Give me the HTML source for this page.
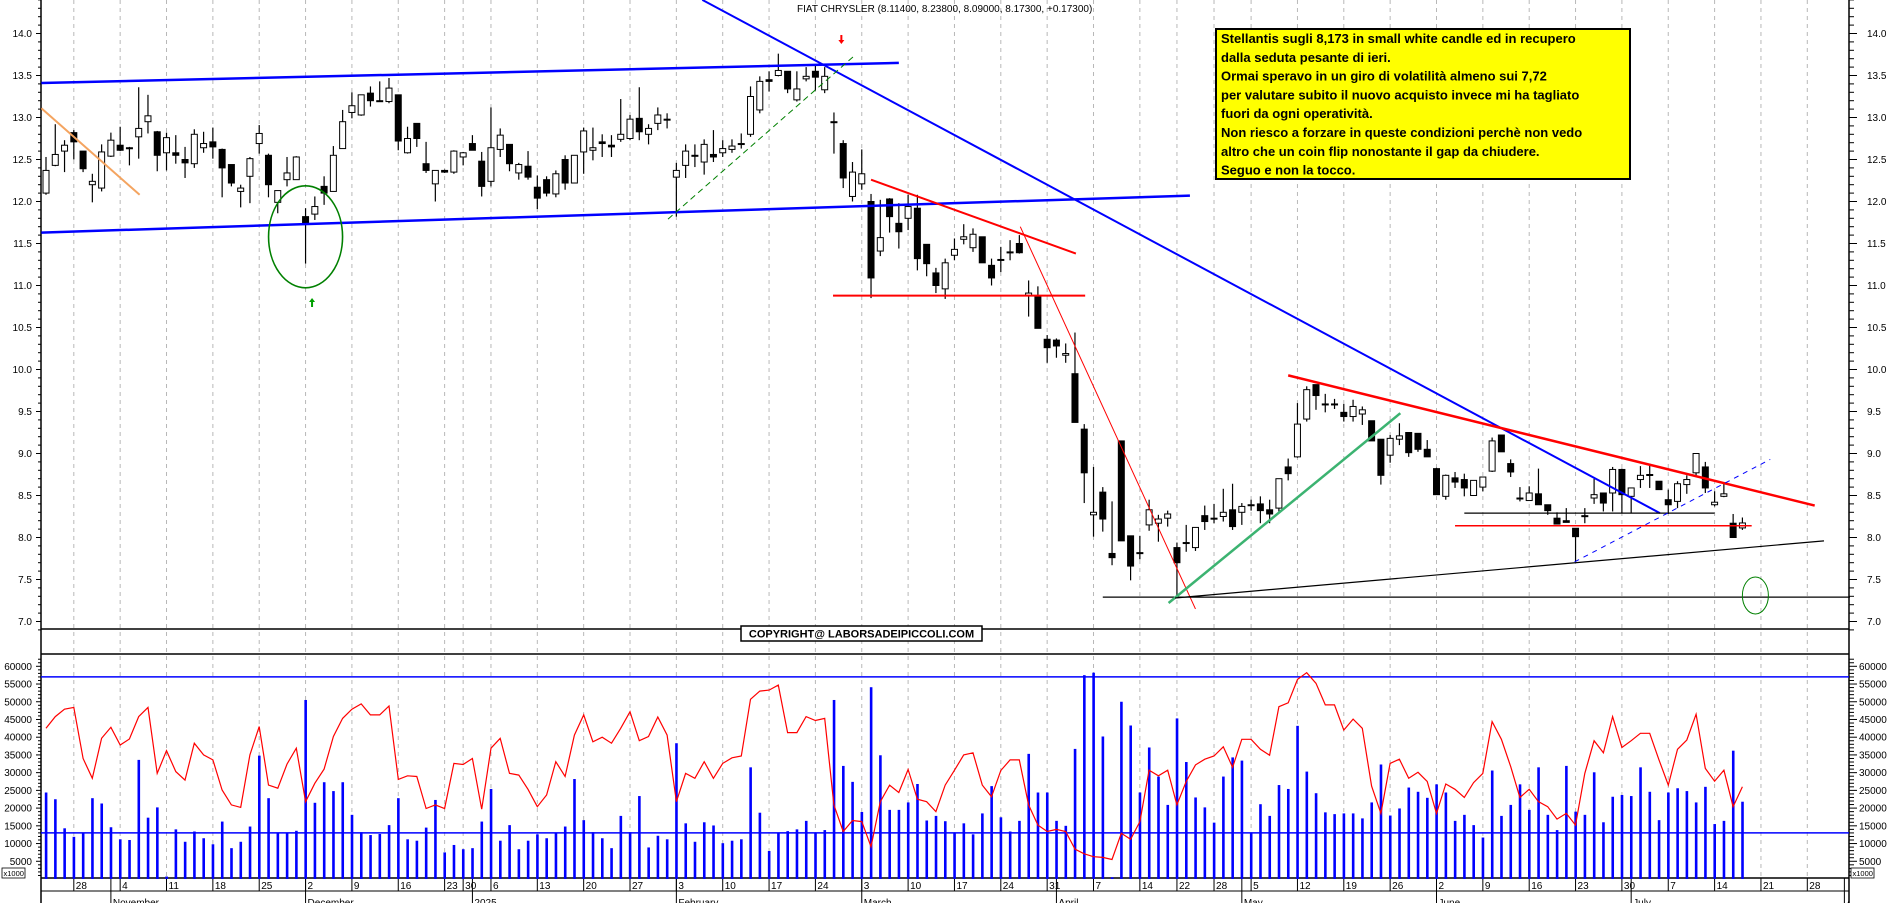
<!DOCTYPE html>
<html><head><meta charset="utf-8"><title>FIAT CHRYSLER chart</title>
<style>
html,body{margin:0;padding:0;background:#fff;}
svg{display:block;font-family:"Liberation Sans",Arial,sans-serif;}
</style></head>
<body>
<svg id="chart" xmlns="http://www.w3.org/2000/svg" width="1890" height="903" viewBox="0 0 1890 903">
<g id="grid"></g>
<g id="axes"></g>
<g id="candles"></g>
<g id="vol"></g>
<g id="annot"></g>
<text x="797" y="12" font-size="10" fill="#000">FIAT CHRYSLER (8.11400, 8.23800, 8.09000, 8.17300, +0.17300)</text>
<g>
<rect x="1216" y="29" width="414" height="150" fill="#ffff00" stroke="#000" stroke-width="2"/>
<text font-size="13" font-weight="bold" fill="#000">
<tspan x="1221" y="43">Stellantis sugli 8,173 in small white candle ed in recupero</tspan>
<tspan x="1221" y="61.8">dalla seduta pesante di ieri.</tspan>
<tspan x="1221" y="80.6">Ormai speravo in un giro di volatilità  almeno sui 7,72</tspan>
<tspan x="1221" y="99.4">per valutare subito il nuovo acquisto invece mi ha tagliato</tspan>
<tspan x="1221" y="118.2">fuori da ogni operatività.</tspan>
<tspan x="1221" y="137">Non riesco a forzare in queste condizioni perchè non vedo</tspan>
<tspan x="1221" y="155.8">altro che un coin flip nonostante il gap da chiudere.</tspan>
<tspan x="1221" y="174.6">Seguo e non la tocco.</tspan>
</text>
</g>
<g>
<rect x="741" y="626" width="241" height="15" fill="#fff" stroke="#000" stroke-width="1.5"/>
<text x="861.5" y="637.5" font-size="11" font-weight="bold" text-anchor="middle" fill="#000">COPYRIGHT@ LABORSADEIPICCOLI.COM</text>
</g>
</svg>
<script>
var opens=[12.10,12.43,12.60,12.82,12.60,12.20,12.16,12.54,12.67,12.64,12.77,12.95,12.83,12.58,12.58,12.50,12.45,12.64,12.71,12.62,12.44,12.12,12.30,12.69,12.55,11.99,12.26,12.26,11.82,11.85,12.18,12.12,12.63,13.06,13.03,13.29,13.20,13.19,13.27,12.58,12.93,12.45,12.21,12.37,12.35,12.53,12.69,12.48,12.24,12.62,12.68,12.34,12.42,12.17,12.26,12.09,12.50,12.22,12.59,12.61,12.71,12.67,12.74,12.75,12.99,12.80,12.93,12.98,12.29,12.43,12.55,12.47,12.56,12.58,12.62,12.69,12.80,13.09,13.45,13.50,13.55,13.21,13.46,13.55,13.33,12.95,12.69,12.06,12.21,12.00,11.41,12.03,11.74,11.80,11.92,11.49,11.15,10.96,11.36,11.55,11.45,11.58,11.24,11.31,11.40,11.50,10.88,10.87,10.36,10.35,10.17,9.95,9.29,8.27,8.54,7.81,9.15,8.02,7.82,8.15,8.17,8.23,7.88,7.94,7.88,8.26,8.23,8.25,8.33,8.30,8.39,8.40,8.33,8.35,8.84,8.96,9.41,9.82,9.59,9.59,9.49,9.44,9.47,9.39,9.17,8.98,9.17,9.25,9.24,9.05,8.82,8.49,8.71,8.69,8.50,8.60,8.79,9.22,8.88,8.47,8.44,8.52,8.39,8.23,8.20,8.11,8.26,8.47,8.53,8.53,8.81,8.49,8.69,8.75,8.67,8.45,8.43,8.63,8.77,8.84,8.39,8.49,8.17,8.114];
var highs=[12.53,12.92,12.73,12.85,12.60,12.33,12.68,12.82,12.89,12.65,13.36,13.27,12.84,12.82,12.79,12.65,12.86,12.83,12.88,12.63,12.44,12.20,12.53,12.91,12.57,12.13,12.53,12.54,11.92,12.06,12.30,12.66,13.09,13.30,13.27,13.37,13.43,13.47,13.27,12.89,12.93,12.71,12.37,12.38,12.61,12.59,12.79,12.59,13.12,12.87,12.68,12.46,12.60,12.31,12.30,12.37,12.55,12.55,12.88,12.88,12.80,12.79,13.22,13.03,13.36,12.92,13.12,13.05,12.46,12.68,12.68,12.74,12.85,12.73,12.74,12.81,13.37,13.49,13.55,13.76,13.55,13.55,13.60,13.62,13.60,13.06,12.73,12.47,12.62,12.09,12.02,12.04,11.98,12.08,12.08,11.49,11.21,11.32,11.56,11.73,11.68,11.58,11.32,11.46,11.54,11.60,11.06,10.99,10.41,10.37,10.31,10.44,9.35,8.84,8.60,8.43,9.15,8.02,8.02,8.45,8.27,8.32,7.94,8.15,8.12,8.38,8.40,8.58,8.64,8.41,8.45,8.49,8.45,8.70,8.94,9.60,9.80,9.82,9.71,9.65,9.59,9.64,9.56,9.39,9.17,9.22,9.36,9.25,9.24,9.16,8.83,8.75,8.78,8.76,8.68,8.72,9.19,9.22,8.93,8.60,8.61,8.82,8.39,8.30,8.35,8.11,8.35,8.70,8.53,8.84,8.82,8.59,8.85,8.88,8.67,8.57,8.67,8.74,9.00,8.90,8.55,8.64,8.28,8.238];
var lows=[12.08,12.42,12.35,12.50,12.35,11.99,12.12,12.53,12.60,12.43,12.51,12.81,12.36,12.37,12.45,12.28,12.40,12.58,12.51,12.05,12.18,11.93,11.98,12.57,12.05,11.86,12.18,12.26,11.26,11.78,11.96,12.12,12.63,12.99,13.02,13.13,13.20,13.17,12.61,12.57,12.65,12.34,12.00,12.34,12.33,12.43,12.61,12.06,12.18,12.53,12.36,12.26,12.26,11.91,12.06,12.05,12.14,12.22,12.33,12.49,12.53,12.53,12.71,12.73,12.73,12.68,12.85,12.87,11.82,12.28,12.41,12.32,12.47,12.53,12.58,12.63,12.77,13.05,13.31,13.49,13.29,13.19,13.43,13.32,13.29,12.57,12.16,12.00,12.14,10.85,11.35,11.63,11.44,11.66,11.18,11.11,10.91,10.84,11.30,11.49,11.40,11.27,11.00,11.16,11.30,11.38,10.63,10.49,10.08,10.14,10.08,9.37,8.41,8.01,8.07,7.67,7.96,7.49,7.74,8.08,7.95,8.13,7.28,7.83,7.84,8.09,8.17,8.19,8.09,8.15,8.32,8.17,8.17,8.31,8.68,8.95,9.38,9.52,9.49,9.53,9.38,9.38,9.34,9.15,8.63,8.89,9.10,8.96,9.02,8.96,8.51,8.45,8.59,8.49,8.50,8.55,8.78,9.02,8.72,8.43,8.44,8.39,8.27,8.16,8.18,7.71,8.17,8.40,8.31,8.31,8.29,8.29,8.59,8.59,8.57,8.28,8.35,8.52,8.72,8.53,8.37,8.48,8.00,8.09];
var closes=[12.37,12.56,12.67,12.71,12.39,12.24,12.59,12.73,12.61,12.64,12.87,13.02,12.55,12.76,12.55,12.46,12.80,12.69,12.65,12.40,12.22,12.16,12.51,12.81,12.20,12.13,12.34,12.53,11.73,11.94,12.10,12.55,12.95,13.14,13.27,13.20,13.20,13.35,12.72,12.75,12.75,12.37,12.37,12.35,12.60,12.58,12.61,12.18,12.64,12.79,12.45,12.44,12.29,12.04,12.10,12.33,12.22,12.55,12.84,12.64,12.69,12.65,12.80,12.98,12.83,12.87,13.03,12.97,12.37,12.60,12.55,12.68,12.53,12.63,12.66,12.68,13.25,13.43,13.43,13.56,13.34,13.34,13.49,13.48,13.49,12.95,12.28,12.35,12.33,11.09,11.57,11.82,11.64,11.94,11.32,11.26,11.00,11.27,11.43,11.58,11.61,11.27,11.09,11.31,11.40,11.39,10.91,10.49,10.26,10.28,10.19,9.37,8.77,8.30,8.22,7.76,7.96,7.66,7.82,8.33,8.22,8.28,7.70,7.94,8.12,8.19,8.23,8.30,8.13,8.37,8.39,8.32,8.28,8.70,8.76,9.35,9.76,9.69,9.59,9.59,9.44,9.56,9.52,9.15,8.74,9.18,9.21,9.01,9.05,8.96,8.51,8.74,8.66,8.59,8.68,8.72,9.15,9.02,8.78,8.47,8.53,8.39,8.32,8.16,8.18,8.01,8.26,8.51,8.41,8.81,8.51,8.59,8.74,8.75,8.57,8.39,8.64,8.69,9.00,8.59,8.42,8.52,8.00,8.173];
var volumes=[24.4,22.5,14.3,11.9,12.9,22.8,21.3,14.6,11.2,11.0,33.6,17.3,20.2,0.7,14.0,10.5,13.4,11.5,9.8,16.2,8.7,10.5,14.8,34.8,22.8,12.9,12.9,13.6,50.5,21.5,27.3,24.8,27.3,18.1,13.2,12.4,12.7,15.2,22.8,11.2,10.8,14.5,22.3,7.5,9.6,8.4,8.7,16.2,25.4,10.8,15.2,8.4,10.8,12.6,11.5,12.9,14.8,28.2,16.6,13.2,11.5,8.7,17.8,13.2,23.4,8.9,12.2,11.2,38.3,15.7,10.5,16.0,15.1,10.1,10.8,11.2,31.5,18.7,7.9,12.9,13.5,14.0,16.4,12.9,13.8,50.5,31.9,27.4,18.9,54.1,34.9,19.5,19.5,21.6,26.8,16.5,17.8,16.3,12.9,15.7,12.6,18.5,26.2,17.4,13.4,16.4,35.3,24.4,24.4,16.4,15.0,36.7,57.5,58.2,40.2,0.5,50.0,43.3,24.4,37.1,28.9,20.9,45.3,33.0,23.0,20.2,15.9,28.9,34.3,33.4,12.9,21.1,17.8,26.5,25.4,43.2,30.3,24.2,18.8,18.3,18.5,18.5,17.1,21.6,32.3,17.9,19.9,25.8,24.6,22.9,26.7,24.4,16.4,18.1,15.2,11.7,30.6,17.8,20.9,26.7,19.5,31.5,18.1,13.8,31.9,19.0,18.1,30.1,16.0,23.2,23.7,23.4,31.5,24.6,16.6,24.4,25.6,24.8,21.6,26.0,15.5,16.4,36.2,21.8];
var redLine=[42.5,45.8,47.9,48.4,34.0,28.4,39.7,42.8,37.8,39.5,45.8,48.4,29.8,36.2,30.3,27.9,38.3,35.0,33.6,25.1,20.9,20.2,35.0,43.0,26.5,25.6,32.4,36.9,21.8,27.0,31.0,40.2,45.3,47.9,49.4,46.3,46.3,48.8,28.1,29.1,28.9,19.9,20.9,19.9,32.6,32.3,34.0,19.7,36.9,39.7,29.8,29.3,25.3,20.4,23.7,33.1,28.9,40.6,46.3,38.7,40.0,38.3,42.5,47.2,39.0,40.2,45.7,40.6,21.8,29.8,28.4,33.1,28.4,32.6,34.2,34.7,50.7,53.0,53.3,54.7,41.3,41.3,45.8,44.7,45.3,20.9,13.4,16.5,16.2,9.1,21.8,26.5,24.4,30.9,22.5,21.8,19.0,26.5,30.7,35.0,35.6,26.5,23.2,30.6,33.6,33.6,20.9,15.2,13.4,14.0,13.4,8.4,7.1,6.3,6.1,5.5,12.9,11.2,16.2,30.7,29.1,30.7,20.9,27.5,32.2,33.8,34.7,37.3,31.5,39.4,39.4,36.6,34.9,48.6,49.7,56.3,58.2,55.2,49.1,49.1,42.0,45.1,42.5,26.2,18.5,32.6,33.8,28.4,30.1,27.5,18.5,26.8,25.3,23.0,27.2,29.8,44.4,39.4,31.7,23.0,25.3,21.8,20.4,16.9,18.5,15.2,29.8,39.0,35.6,45.8,37.1,39.0,41.1,41.1,33.6,26.5,36.6,39.2,46.5,31.2,27.6,30.7,20.4,26.0];
var priceTicks=[7.0,7.5,8.0,8.5,9.0,9.5,10.0,10.5,11.0,11.5,12.0,12.5,13.0,13.5,14.0];
var volTicks=[5000,10000,15000,20000,25000,30000,35000,40000,45000,50000,55000,60000];
var volLevels=[57.0,13.0];
var monthNames=["January","February","March","April","May","June","July","August","September","October","November","December"];
var holidays=["2024-12-24","2024-12-25","2024-12-26","2024-12-31","2025-01-01","2025-04-18","2025-04-21","2025-05-01"];

var NS="http://www.w3.org/2000/svg";
function X(i){return 46+i*9.27;}
function PY(p){return 33.5+(14-p)*84;}
function VY(v){return 879-v*3.545;}
function mk(parent,tag,attrs){var e=document.createElementNS(NS,tag);for(var k in attrs)e.setAttribute(k,attrs[k]);parent.appendChild(e);return e;}

var svgRoot=document.getElementById('chart');
var defs=mk(svgRoot,'defs',{});
var cp=mk(defs,'clipPath',{id:'clipAxis'});mk(cp,'rect',{x:0,y:0,width:1849,height:903});

var days=[];
var dd=new Date(Date.UTC(2024,9,23));
var endD=new Date(Date.UTC(2025,7,1));
while(dd<=endD){var wd=dd.getUTCDay();var s=dd.toISOString().slice(0,10);
 if(wd!==0&&wd!==6&&holidays.indexOf(s)<0)days.push(new Date(dd.getTime()));
 dd.setUTCDate(dd.getUTCDate()+1);}

var grid=document.getElementById('grid'),axes=document.getElementById('axes');
function weekKey(dt){var t=new Date(dt.getTime());t.setUTCDate(t.getUTCDate()-((t.getUTCDay()+6)%7));return t.toISOString().slice(0,10);}
var prevWeek=weekKey(days[0]),prevMonth=days[0].getUTCMonth();
for(var i=1;i<days.length;i++){
 var x=X(i);var wk=weekKey(days[i]);var mo=days[i].getUTCMonth();
 if(wk!==prevWeek){
  var g=mk(grid,'line',{x1:x,y1:0,x2:x,y2:878,stroke:'#b8b8b8','stroke-width':1,'stroke-dasharray':'4,4'});
  
  
  var tk=mk(axes,'line',{x1:x,y1:878,x2:x,y2:891,stroke:'#000','stroke-width':1});
  
  
  var lb=mk(axes,'text',{x:x+2,y:889,'font-size':10,fill:'#000'});lb.textContent=String(days[i].getUTCDate());
  
  
 }
 if(mo!==prevMonth){
  var mt=mk(axes,'line',{x1:x,y1:878,x2:x,y2:903,stroke:'#000','stroke-width':1});
  
  
  var ml=mk(axes,'text',{x:x+2,y:906,'font-size':10,fill:'#000','clip-path':'url(#clipAxis)'});
  ml.textContent=(mo===0)?String(days[i].getUTCFullYear()):monthNames[mo];
  
  
 }
 prevWeek=wk;prevMonth=mo;
}

function ln(x1,y1,x2,y2,c,w,name){var e=mk(axes,'line',{x1:x1,y1:y1,x2:x2,y2:y2,stroke:c,'stroke-width':w});return e;}
ln(41,0,41,903,'#000',1.5,'left-axis');
ln(1849,0,1849,903,'#000',1.5,'right-axis');
ln(41,629,1849,629,'#000',1.5,'price-panel-bottom');
ln(41,654,1849,654,'#000',1.5,'volume-panel-top');
ln(41,878,1849,878,'#000',1.5,'x-axis');
ln(41,891,1849,891,'#000',1,'month-axis');

for(var p=69;p<=144;p++){var v=p/10;var y=PY(v);var major=(p%5===0);
 mk(axes,'line',{x1:major?36:38,y1:y,x2:41,y2:y,stroke:'#000','stroke-width':1});
 mk(axes,'line',{x1:1849,y1:y,x2:major?1857:1854,y2:y,stroke:'#000','stroke-width':1});}
priceTicks.forEach(function(v){var y=PY(v);
 var a=mk(axes,'text',{x:32,y:y+3.5,'font-size':10,'text-anchor':'end',fill:'#000'});a.textContent=v.toFixed(1);
 
 
 var b=mk(axes,'text',{x:1867,y:y+3.5,'font-size':10,fill:'#000'});b.textContent=v.toFixed(1);
 
 });
for(var k=1;k<=62;k++){var y=VY(k);var major=(k%5===0);
 mk(axes,'line',{x1:major?36:38,y1:y,x2:41,y2:y,stroke:'#000','stroke-width':1});
 mk(axes,'line',{x1:1849,y1:y,x2:major?1857:1854,y2:y,stroke:'#000','stroke-width':1});}
volTicks.forEach(function(v){var y=VY(v/1000);
 var a=mk(axes,'text',{x:32,y:y+3.5,'font-size':10,'text-anchor':'end',fill:'#000'});a.textContent=String(v);
 
 
 var b=mk(axes,'text',{x:1859,y:y+3.5,'font-size':10,fill:'#000'});b.textContent=String(v);
 
 });
[[2,'x1000-left'],[1851,'x1000-right']].forEach(function(q){
 var r=mk(axes,'rect',{x:q[0],y:868,width:23,height:10,fill:'#fff',stroke:'#000','stroke-width':0.8});
 
 
 var t=mk(axes,'text',{x:q[0]+1.5,y:876,'font-size':7.5,fill:'#000'});t.textContent='x1000';});

var vol=document.getElementById('vol');
volLevels.forEach(function(v){var e=mk(vol,'line',{x1:41,y1:VY(v),x2:1849,y2:VY(v),stroke:'#0000ff','stroke-width':1.5});
 
 });
volumes.forEach(function(v,i){var y=VY(v);
 var r=mk(vol,'rect',{x:X(i)-1.2,y:y,width:2.6,height:879-y,fill:'#0000ff'});
 
 });
var pts=redLine.map(function(v,i){return X(i).toFixed(1)+','+VY(v).toFixed(1);}).join(' ');
var rl=mk(vol,'polyline',{points:pts,fill:'none',stroke:'#ff0000','stroke-width':1.2});



var cg=document.getElementById('candles');
for(var i=0;i<closes.length;i++){var cx=X(i);var o=opens[i],c=closes[i];
 var w=mk(cg,'line',{x1:cx,y1:PY(highs[i]),x2:cx,y2:PY(lows[i]),stroke:'#000','stroke-width':1.2});
 
 
 var yTop=PY(Math.max(o,c)),yBot=PY(Math.min(o,c));var bh=Math.max(yBot-yTop,1);
 var body=mk(cg,'rect',{x:cx-3,y:yTop,width:6,height:bh,fill:(c>=o?'#fff':'#000'),stroke:'#000','stroke-width':1});
 
 }

var an=document.getElementById('annot');
var trendLines=[
 {n:'upper-channel-line',a:[-0.5,13.41],b:[92,13.65],c:'#0000ff',w:2.5},
 {n:'lower-channel-line',a:[-0.5,11.63],b:[123.4,12.07],c:'#0000ff',w:2.5},
 {n:'blue-downtrend-line',a:[70.8,14.4],b:[174.1,8.29],c:'#0000ff',w:2},
 {n:'orange-short-trend',a:[-0.5,13.11],b:[10.1,12.08],c:'#f4a460',w:2},
 {n:'green-dashed-trend',a:[67.1,11.79],b:[87.05,13.72],c:'#008000',w:1,d:'6,4'},
 {n:'red-march-resistance',a:[89,12.26],b:[111.1,11.38],c:'#ff0000',w:2},
 {n:'red-march-support',a:[84.9,10.88],b:[112.1,10.88],c:'#ff0000',w:2},
 {n:'red-steep-trend',a:[105.1,11.70],b:[124,7.15],c:'#ff0000',w:1},
 {n:'black-horizontal-support',a:[114,7.29],b:[194.6,7.29],c:'#000',w:1.2},
 {n:'green-rising-trend',a:[121.1,7.22],b:[146.1,9.48],c:'#3cb371',w:2.5},
 {n:'black-rising-trend',a:[121.8,7.28],b:[191.8,7.96],c:'#000',w:1.2},
 {n:'red-descending-resistance',a:[134,9.93],b:[190.8,8.38],c:'#ff0000',w:2.5},
 {n:'black-short-horizontal',a:[153,8.29],b:[180,8.29],c:'#000',w:1.2},
 {n:'red-short-horizontal',a:[152,8.14],b:[184,8.14],c:'#ff0000',w:1.5},
 {n:'blue-dashed-trend',a:[164.9,7.71],b:[186,8.93],c:'#0000ff',w:1,d:'5,5'}
];
trendLines.forEach(function(t){var e=mk(an,'line',{x1:X(t.a[0]),y1:PY(t.a[1]),x2:X(t.b[0]),y2:PY(t.b[1]),stroke:t.c,'stroke-width':t.w});
 if(t.d)e.setAttribute('stroke-dasharray',t.d);
 
 });
var e1=mk(an,'ellipse',{cx:X(28),cy:PY(11.58),rx:37,ry:51,fill:'none',stroke:'#008000','stroke-width':1.6});


var e2=mk(an,'ellipse',{cx:X(184.4),cy:PY(7.31),rx:13,ry:18.5,fill:'none',stroke:'#008000','stroke-width':1});


var ga=mk(an,'path',{d:'M'+X(28.7)+' 298 l-3 4 h2 v5 h2 v-5 h2 z',fill:'#00a000'});


var ra=mk(an,'path',{d:'M'+X(85.8)+' 44 l-3 -4 h2 v-5 h2 v5 h2 z',fill:'#ff0000'});


</script>
</body></html>
